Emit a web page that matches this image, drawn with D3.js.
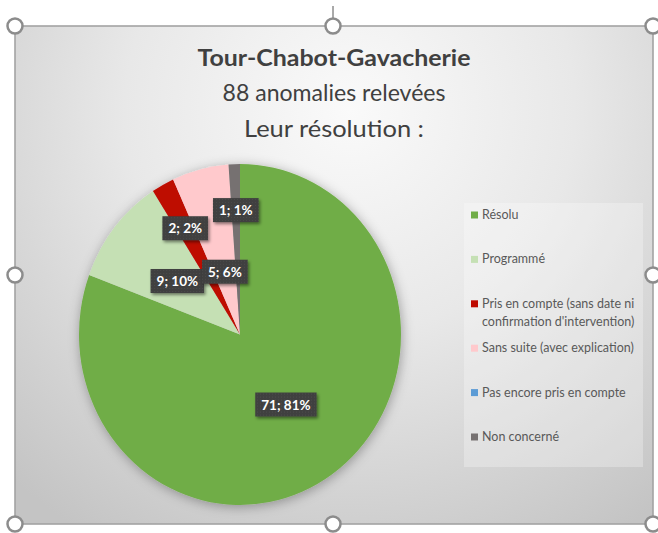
<!DOCTYPE html>
<html>
<head>
<meta charset="utf-8">
<script src="https://cdn.jsdelivr.net/npm/d3@7/dist/d3.min.js"></script>
<style>
  html, body { margin: 0; padding: 0; background: #ffffff; }
  svg { display: block; }
</style>
</head>
<body>
<svg id="chart" width="658" height="533"></svg>
<script>
// ---------------- data ----------------
const titleLines = ["Tour-Chabot-Gavacherie", "88 anomalies relevées", "Leur résolution :"];
const categories = [
  "Résolu",
  "Programmé",
  "Pris en compte (sans date ni confirmation d'intervention)",
  "Sans suite (avec explication)",
  "Pas encore pris en compte",
  "Non concerné"
];
const legendLabels = [
  ["Résolu"],
  ["Programmé"],
  ["Pris en compte (sans date ni", "confirmation d'intervention)"],
  ["Sans suite (avec explication)"],
  ["Pas encore pris en compte"],
  ["Non concerné"]
];
const values = [71, 9, 2, 5, 0, 1];
const colors = ["#70AD47", "#C5E0B4", "#BE0A00", "#FFC9CC", "#5B9BD5", "#767171"];
// label radius fraction (Excel "best fit" placement)
const labelRadius = [0.5, 0.5, 0.71, 0.38, 0.5, 0.73];

// ---------------- layout ----------------
const W = 658, H = 533;
const frame = { x0: 15, y0: 26, x1: 653, y1: 524 };
const pieC = { cx: 240, cy: 334.5, rx: 161, ry: 170.5 };
const legendBox = { x: 464, y: 203, w: 179, h: 264 };

const svg = d3.select("#chart");
const defs = svg.append("defs");

const bg = defs.append("radialGradient").attr("id", "bgGrad")
  .attr("gradientUnits", "userSpaceOnUse")
  .attr("cx", 350).attr("cy", 110).attr("r", 500);
bg.append("stop").attr("offset", 0).attr("stop-color", "#fafafa");
bg.append("stop").attr("offset", 0.45).attr("stop-color", "#e8e8e8");
bg.append("stop").attr("offset", 1).attr("stop-color", "#c4c4c4");

const sh = defs.append("filter").attr("id", "pieShadow")
  .attr("x", "-20%").attr("y", "-20%").attr("width", "140%").attr("height", "140%");
sh.append("feDropShadow").attr("dx", 1).attr("dy", 2).attr("stdDeviation", 6)
  .attr("flood-color", "#000").attr("flood-opacity", 0.32);

const lsh = defs.append("filter").attr("id", "lblShadow")
  .attr("x", "-30%").attr("y", "-30%").attr("width", "160%").attr("height", "160%");
lsh.append("feDropShadow").attr("dx", 1.5).attr("dy", 2).attr("stdDeviation", 1.5)
  .attr("flood-color", "#000").attr("flood-opacity", 0.45);

const pat = defs.append("pattern").attr("id", "lblPat")
  .attr("patternUnits", "userSpaceOnUse").attr("width", 3).attr("height", 3);
pat.append("rect").attr("width", 3).attr("height", 3).attr("fill", "#3f3f3f");
pat.append("rect").attr("x", 1).attr("y", 1).attr("width", 1).attr("height", 1).attr("fill", "#4d4d4d");

// frame background
svg.append("rect")
  .attr("x", frame.x0).attr("y", frame.y0)
  .attr("width", frame.x1 - frame.x0).attr("height", frame.y1 - frame.y0)
  .attr("fill", "url(#bgGrad)")
  .attr("stroke", "#a3a3a3").attr("stroke-width", 1.6);

// ---------------- titles ----------------
const titleG = svg.append("g").attr("font-family", "Lato, 'Open Sans', sans-serif").attr("fill", "#404040");
const titleSpec = [
  { y: 66, size: 22.5, weight: "bold", width: 273 },
  { y: 101, size: 23, weight: "normal", width: 223 },
  { y: 137, size: 23, weight: "normal", width: 180 }
];
titleLines.forEach((t, i) => {
  const s = titleSpec[i];
  titleG.append("text")
    .attr("x", (frame.x0 + frame.x1) / 2).attr("y", s.y)
    .attr("text-anchor", "middle")
    .attr("font-size", s.size).attr("font-weight", s.weight)
    .attr("textLength", s.width).attr("lengthAdjust", "spacingAndGlyphs")
    .text(t);
});

// ---------------- pie ----------------
const data = categories.map((c, i) => ({ cat: c, value: values[i], color: colors[i], lr: labelRadius[i] }));
const total = d3.sum(values);
const pie = d3.pie().sort(null).value(d => d.value).startAngle(0).endAngle(2 * Math.PI);
const arcs = pie(data);
const ky = pieC.ry / pieC.rx;
const arc = d3.arc().innerRadius(0).outerRadius(pieC.rx);

const pieG = svg.append("g")
  .attr("transform", `translate(${pieC.cx},${pieC.cy})`)
  .attr("filter", "url(#pieShadow)");
pieG.append("g").attr("transform", `scale(1,${ky})`)
  .selectAll("path").data(arcs.filter(d => d.data.value > 0)).join("path")
  .attr("d", arc)
  .attr("fill", d => d.data.color);

// data labels
const lblG = svg.append("g").attr("transform", `translate(${pieC.cx},${pieC.cy})`);
arcs.filter(d => d.data.value > 0).forEach(d => {
  const la = d3.arc().innerRadius(pieC.rx * d.data.lr).outerRadius(pieC.rx * d.data.lr);
  const [x, yRaw] = la.centroid(d);
  const y = yRaw * ky;
  const txt = `${d.data.value}; ${Math.round(d.data.value / total * 100)}%`;
  const g = lblG.append("g").attr("transform", `translate(${x},${y})`);
  const rect = g.append("rect").attr("fill", "url(#lblPat)").attr("filter", "url(#lblShadow)");
  const t = g.append("text")
    .attr("text-anchor", "middle").attr("dy", "0.37em")
    .attr("font-family", "Lato, 'Open Sans', sans-serif")
    .attr("font-weight", "bold").attr("font-size", 13.5)
    .attr("fill", "#ffffff")
    .text(txt);
  const w = t.node().getComputedTextLength() + 12;
  const h = 24;
  rect.attr("x", -w / 2).attr("y", -h / 2).attr("width", w).attr("height", h);
});

// ---------------- legend ----------------
svg.append("rect")
  .attr("x", legendBox.x).attr("y", legendBox.y)
  .attr("width", legendBox.w).attr("height", legendBox.h)
  .attr("fill", "#ffffff").attr("fill-opacity", 0.28);

const legG = svg.append("g").attr("font-family", "Lato, 'Open Sans', sans-serif").attr("fill", "#595959");
const step = 44.4, firstBase = 219, lineH = 18;
// fit font size so the widest single-line entry matches the reference width
const probe = legG.append("text").attr("font-size", 12).text("Sans suite (avec explication)");
const legFont = 12 * 152 / probe.node().getComputedTextLength();
probe.remove();

data.forEach((d, i) => {
  const base = firstBase + i * step;
  legG.append("rect")
    .attr("x", 471).attr("y", base - 7.5)
    .attr("width", 7).attr("height", 7)
    .attr("fill", d.color);
  const t = legG.append("text").attr("x", 482).attr("y", base).attr("font-size", legFont);
  legendLabels[i].forEach((ln, j) => {
    t.append("tspan").attr("x", 482).attr("y", base + j * lineH).text(ln);
  });
});

// ---------------- selection handles ----------------
const my = 275;
svg.append("line")
  .attr("x1", 333).attr("x2", 333).attr("y1", 6).attr("y2", 18)
  .attr("stroke", "#555").attr("stroke-width", 1);
const handles = [
  [frame.x0, frame.y0], [333, frame.y0], [frame.x1, frame.y0],
  [frame.x0, my], [frame.x1, my],
  [frame.x0, frame.y1], [333, frame.y1], [frame.x1, frame.y1]
];
svg.append("g").selectAll("circle").data(handles).join("circle")
  .attr("cx", d => d[0]).attr("cy", d => d[1]).attr("r", 7.5)
  .attr("fill", "#ffffff").attr("stroke", "#8c8c8c").attr("stroke-width", 2.5);
</script>
</body>
</html>
